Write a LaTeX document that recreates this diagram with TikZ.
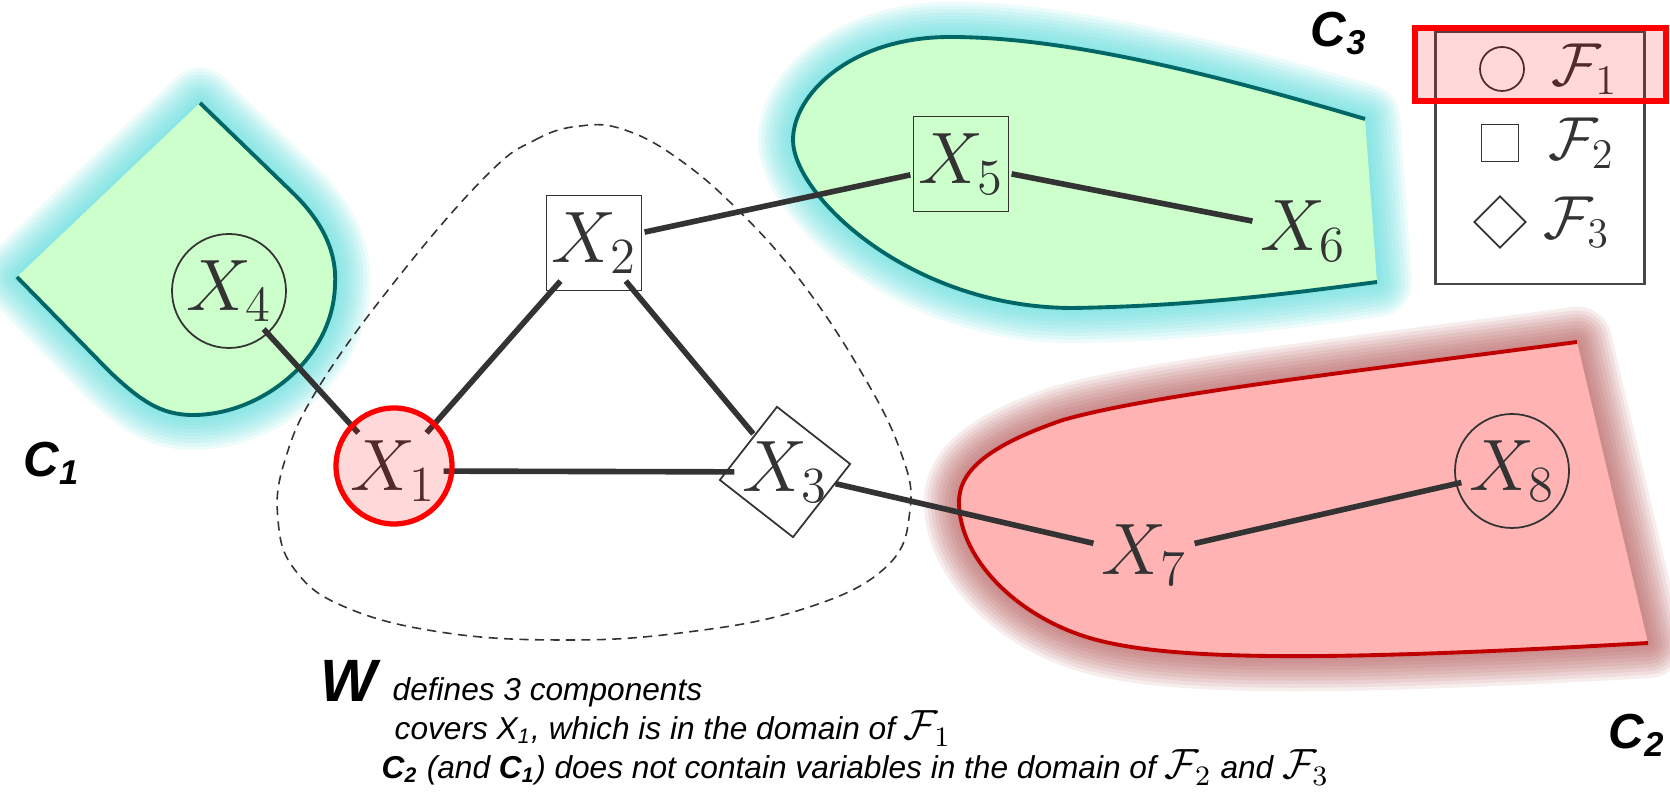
\documentclass[tikz,border=0pt]{standalone}
\usepackage{fontspec}
\newfontfamily\arialfont{Liberation Sans}
\usepackage{tikz}
\usetikzlibrary{positioning,shapes.geometric,calc}
\definecolor{mintfill}{HTML}{CCFFCC}
\definecolor{tealline}{HTML}{006666}
\definecolor{cyanglow}{HTML}{50D8D8}
\definecolor{rosefill}{HTML}{FFB3B3}
\definecolor{redline}{HTML}{C00000}
\definecolor{roseglow}{HTML}{B05050}
\definecolor{inkgrey}{HTML}{333333}
\tikzset{
  var/.style={inner sep=2pt, text=inkgrey, font=\fontsize{20.74}{24}\selectfont},
  fcirc/.style={circle, draw=inkgrey, line width=0.5pt, inner sep=0pt, minimum size=#1},
  fsq/.style={rectangle, draw=inkgrey, line width=0.5pt, inner sep=0pt, minimum size=#1},
  fdia/.style={diamond, aspect=1, draw=inkgrey, line width=0.5pt, inner sep=0pt, minimum size=#1},
  keybox/.style={rectangle, draw=inkgrey!90, line width=0.6pt, inner sep=0pt},
  hot/.style={draw=red, line width=1.5pt, fill=red, fill opacity=0.15, inner sep=0pt},
  lnk/.style={draw=inkgrey, line width=1.6pt},
  glow/.style={draw=#1, draw opacity=0.1, line join=round},
  rim/.style={draw=#1, line width=1.1pt},
  wline/.style={draw=inkgrey, line width=0.45pt, dash pattern=on 2.6pt off 1.8pt},
  ltext/.style={inner sep=0pt, text=inkgrey, font=\fontsize{17.28}{19}\selectfont},
  clab/.style={anchor=base west, inner sep=0pt, font=\arialfont\bfseries\itshape\fontsize{14}{16}\selectfont},
  note/.style={anchor=base west, inner sep=0pt, font=\arialfont\itshape\fontsize{9}{11}\selectfont},
  c1path/.style={insert path={(200,103) -- (295,195) .. controls (325,225) and (337,255) .. (335,285)
      .. controls (333,360) and (260,415) .. (193,415) .. controls (160,415) and (140,400) .. (110,372) -- (17,277)}},
  c3path/.style={insert path={(1365,119) .. controls (1200,70) and (1060,37) .. (950,37)
      .. controls (850,37) and (793,95) .. (793,140) .. controls (793,195) and (910,308) .. (1073,308)
      .. controls (1200,306) and (1300,292) .. (1377,282)}},
  c2path/.style={insert path={(1577,342) .. controls (1350,372) and (1150,395) .. (1063,420)
      .. controls (990,445) and (959,470) .. (959,502) .. controls (959,560) and (1020,620) .. (1097,640)
      .. controls (1180,662) and (1350,660) .. (1648,643)}},
}
\begin{document}
\begin{tikzpicture}[x=0.1mm, y=-0.1mm]
  \useasboundingbox (0,0) rectangle (1670,800);

  % components
  \foreach \w in {20,18,16,14,12,10,8,6,4,2}{
    \draw[glow=cyanglow, line width=\w pt, c1path] -- cycle;
    \draw[glow=cyanglow, line width=\w pt, c3path] -- cycle;
    \draw[glow=roseglow, line width=\w pt, c2path] -- cycle;
  }
  \fill[mintfill, c1path] -- cycle;
  \fill[mintfill, c3path] -- cycle;
  \fill[rosefill, c2path] -- cycle;
  \draw[rim=tealline, c1path];
  \draw[rim=tealline, c3path];
  \draw[rim=redline, c2path];

  \draw[wline] plot[smooth cycle, tension=0.7] coordinates {(487,175) (535,140) (580,126) (625,130)
    (680,160) (740,212) (800,280) (860,370) (900,450) (910,510) (885,568) (800,610) (680,633)
    (560,640) (440,632) (345,607) (295,570) (278,520) (285,460) (320,385) (400,275)};

  \node[var] (x1) at (393,471) {$X_1$};
  \node[var] (x2) at (594,243) {$X_2$};
  \node[var] (x3) at (785,472) {$X_3$};
  \node[var] (x4) at (229,291) {$X_4$};
  \node[var] (x5) at (961,164) {$X_5$};
  \node[var] (x6) at (1303,231) {$X_6$};
  \node[var] (x7) at (1144,555) {$X_7$};
  \node[var] (x8) at (1512,471) {$X_8$};

  \node[fsq=9.5mm] (s2) at (x2) {};
  \node[fdia=13.2mm, rotate=7] (s3) at (x3) {};
  \node[fcirc=11.4mm] (s4) at (x4) {};
  \node[fsq=9.5mm] (s5) at (x5) {};
  \node[fcirc=11.4mm] (s8) at (x8) {};

  \draw[lnk] (x1) -- (x4);
  \draw[lnk] (x1) -- (x2);
  \draw[lnk] (x1) -- (x3);
  \draw[lnk] (x2) -- (x3);
  \draw[lnk] (x2) -- (x5);
  \draw[lnk] (x5) -- (x6);
  \draw[lnk] (x3) -- (x7);
  \draw[lnk] (x7) -- (x8);

  \node[hot, circle, minimum size=11.6mm] (s1) at (394,466) {};

  % legend
  \node[keybox, minimum width=20.9mm, minimum height=25.2mm] (key) at (1540,158) {};
  \node[fcirc=4.4mm] (k1) at (1502,69) {};
  \node[fsq=3.7mm] (k2) at (1500,143) {};
  \node[fdia=5.2mm] (k3) at (1500,222) {};
  \node[ltext, right=2.6mm of k1] (f1) {$\mathcal{F}_1$};
  \node[ltext, right=2.8mm of k2] (f2) {$\mathcal{F}_2$};
  \node[ltext, right=1.6mm of k3] (f3) {$\mathcal{F}_3$};
  \node[hot, rectangle, minimum width=25.1mm, minimum height=7.3mm] (hl) at (1540.5,64.5) {};

  \node[clab] (c1) at (23,477) {C\textsubscript{1}};
  \node[clab] (c2) at (1608,749) {C\textsubscript{2}};
  \node[clab] (c3) at (1310,47) {C\textsubscript{3}};
  \node[clab, font=\arialfont\bfseries\itshape\fontsize{17}{20}\selectfont] (w) at (320,702) {W};

  \node[note] (l1) at (392,701) {defines 3 components};
  \node[note] (l2) at (394,740) {covers X\textsubscript{1}, which is in the domain of {\fontsize{12}{12}\selectfont$\mathcal{F}_1$}};
  \node[note] (l3) at (381,779) {\textbf{C\textsubscript{2}} (and \textbf{C\textsubscript{1}}) does not contain variables in the domain of {\fontsize{12}{12}\selectfont$\mathcal{F}_2$} and {\fontsize{12}{12}\selectfont$\mathcal{F}_3$}};
\end{tikzpicture}
\end{document}
